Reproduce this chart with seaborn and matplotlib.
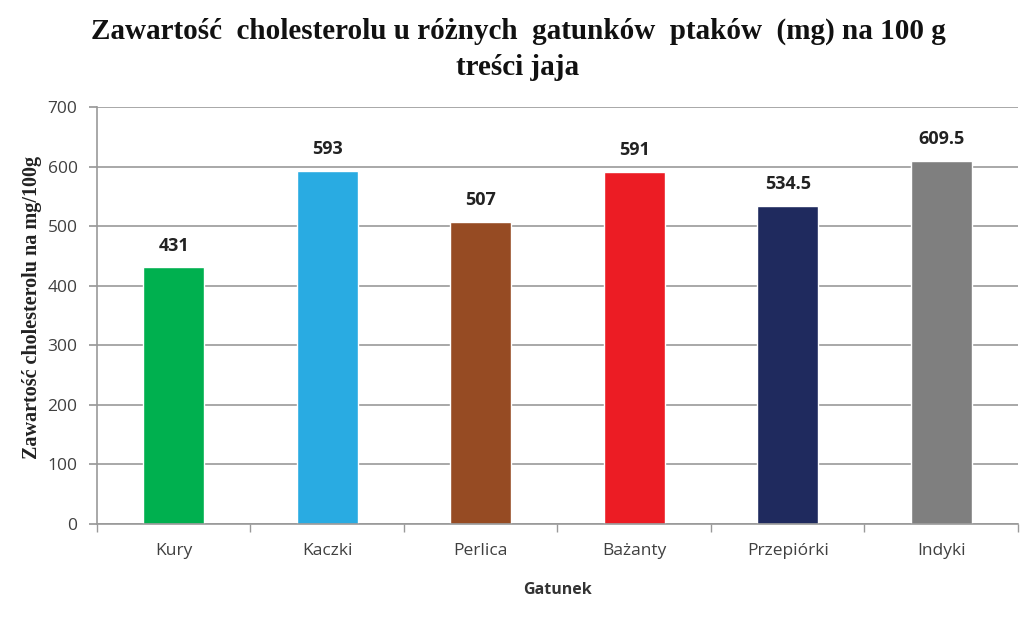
import matplotlib
matplotlib.use("Agg")
import matplotlib.pyplot as plt
import seaborn as sns
import pandas as pd
import numpy as np

categories = ["Kury", "Kaczki", "Perlica", "Bażanty", "Przepiórki", "Indyki"]
values = [431, 593, 507, 591, 534.5, 609.5]
labels = ["431", "593", "507", "591", "534.5", "609.5"]
colors = ["#00b04f", "#29abe2", "#964b23", "#ec1c24", "#1f2a5e", "#7f7f7f"]
yticks = [0, 100, 200, 300, 400, 500, 600, 700]

sns.set_theme(style="white")
plt.rcParams['font.family'] = ['DejaVu Sans']

df = pd.DataFrame({"Gatunek": categories, "val": values})

fig = plt.figure(figsize=(10.36, 6.22), dpi=100)
ax = fig.add_axes([0.0936, 0.1576, 0.889, 0.6705])
sns.barplot(data=df, x="Gatunek", y="val", hue="Gatunek", palette=colors,
            width=0.4, legend=False, ax=ax, saturation=1)

ax.set_ylim(0, 700)
ax.set_xlim(-0.5, 5.5)
ax.set_yticks(yticks)
ax.set_yticklabels([str(t) for t in yticks], fontsize=12.5, color="#404040", family="Open Sans")
ax.set_xticks(range(len(categories)))
ax.set_xticklabels(categories, fontsize=12.5, color="#404040", family="Open Sans")
ax.set_xticks(np.arange(-0.5, 6.0, 1.0), minor=True)
ax.tick_params(axis="x", which="major", length=0, pad=14)
ax.tick_params(axis="x", which="minor", length=6, color="#999999", direction="out", bottom=True)
ax.tick_params(axis="y", length=6, color="#999999", direction="out", left=True, pad=8)

ax.yaxis.grid(True, color="#999999", linewidth=1.2)
ax.set_axisbelow(True)
for s in ["top", "right"]:
    ax.spines[s].set_visible(False)
for s in ["left", "bottom"]:
    ax.spines[s].set_color("#999999")
    ax.spines[s].set_linewidth(1.2)

for i, (v, lab) in enumerate(zip(values, labels)):
    ax.annotate(lab, (i, v), xytext=(0, 9), textcoords="offset points",
                ha="center", va="bottom", fontsize=13, fontweight="bold",
                color="#222222", family="Open Sans")

ax.set_xlabel("Gatunek", fontsize=11.5, fontweight="bold", color="#333333", family="Open Sans", labelpad=16)
ax.set_ylabel("Zawartość cholesterolu na mg/100g", fontsize=14.5, fontweight="bold",
              family="Liberation Serif", color="#222222")
ax.yaxis.set_label_coords(-0.06, 0.52)

fig.suptitle("Zawartość  cholesterolu u różnych  gatunków  ptaków  (mg) na 100 g\ntreści jaja",
             fontsize=21, fontweight="bold", family="Liberation Serif", y=0.972, color="#111111",
             linespacing=1.45)

fig.savefig("out.png", dpi=100, facecolor="white")
